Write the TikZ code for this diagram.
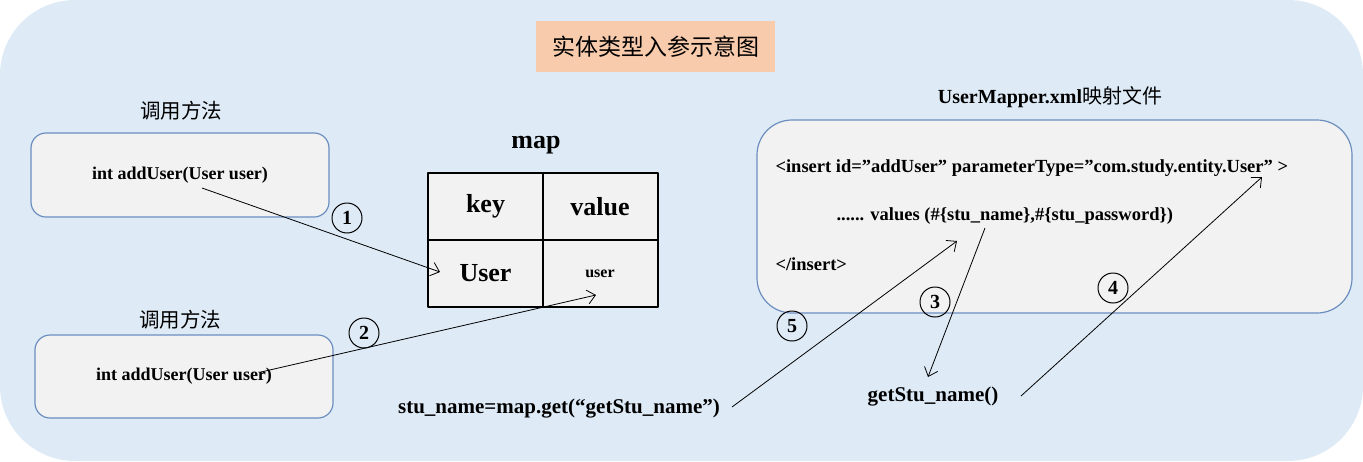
\documentclass[tikz,border=0pt]{standalone}
\usepackage{fontspec}
\setmainfont{Liberation Serif}
\newfontfamily\cjk{Noto Sans CJK SC}
\usetikzlibrary{arrows.meta}
\definecolor{bgblue}{HTML}{DEEBF7}
\definecolor{boxgray}{HTML}{F2F2F2}
\definecolor{boxline}{HTML}{6C8EBF}
\definecolor{titleorange}{HTML}{F8CBAD}

\begin{document}
\begin{tikzpicture}[x=1pt, y=-1pt, line join=round,
    fsz/.style={font=\bfseries\fontsize{#1}{#1}\selectfont},
    zh/.style={font=\cjk\fontsize{#1}{#1}\selectfont},
    callbox/.style={draw=boxline, line width=1.2pt, fill=boxgray, rounded corners=15pt,
        minimum width=298pt, minimum height=84pt},
    cell/.style={draw, line width=2pt, fill=boxgray, minimum width=115pt, minimum height=67pt},
    num/.style={circle, draw, line width=1pt, minimum size=30pt, inner sep=0pt, fsz=20},
    arr/.style={-{Straight Barb[length=8pt, width=14pt]}, line width=0.8pt}]

    % background panel
    \useasboundingbox (0,0) rectangle (1363,461);
    \fill[bgblue, rounded corners=75pt] (0,0) rectangle (1363,461);

    % title
    \node[fill=titleorange, minimum width=239pt, minimum height=51pt, zh=23] (title) at (655.5,46.5) {实体类型入参示意图};

    % calling methods on the left
    \node[zh=20.5] (labelA) at (181,111) {调用方法};
    \node[callbox, fsz=18] (callA) at (180,175) {int addUser(User user)};
    \node[zh=20.5] (labelB) at (180,320) {调用方法};
    \node[callbox, minimum height=83pt, fsz=18] (callB) at (184,376.5) {int addUser(User user)};

    % map table
    \node[fsz=26] (maptitle) at (536,145) {map};
    \node[cell, fsz=26] (keyhead) at (485.5,206.5) {key};
    \node[cell, fsz=26] (valhead) at (600,206.5) {value};
    \node[cell, fsz=26] (keycell) at (485.5,273.5) {User};
    \node[cell, fsz=16] (valcell) at (600,273.5) {user};

    % mapper file
    \node[font=\fontsize{20}{20}\selectfont] (mappertitle) at (1050,97) {\bfseries UserMapper.xml{\mdseries\cjk 映射文件}};
    \node[draw=boxline, line width=1.2pt, fill=boxgray, rounded corners=35pt,
        minimum width=595pt, minimum height=193pt] (mapper) at (1054.5,216.5) {};
    \node[anchor=west, fsz=18.5] (insertline) at (772,168) {<insert id=”addUser” parameterType=”com.study.entity.User” >};
    \node[anchor=west, fsz=18.5] (valuesline) at (833,216) {...... values (\#\{stu\_name\},\#\{stu\_password\})};
    \node[anchor=west, fsz=18.5] (endline) at (772,264) {</insert>};

    % calls below
    \node[fsz=21] (getcall) at (559,409) {stu\_name=map.get(“getStu\_name”)};
    \node[fsz=21] (getter) at (933,397) {getStu\_name()};

    % step numbers
    \node[num] (n1) at (347,218) {1};
    \node[num] (n2) at (364,333) {2};
    \node[num] (n3) at (935,302) {3};
    \node[num] (n4) at (1113,288) {4};
    \node[num] (n5) at (792,326) {5};

    % arrow ends
    \coordinate (s1) at (202,188);
    \coordinate (e1) at (440,272);
    \coordinate (s2) at (261,372);
    \coordinate (e2) at (596,295);
    \coordinate (s3) at (985,228);
    \coordinate (e3) at (928,377);
    \coordinate (s4) at (1021,396);
    \coordinate (e4) at (1262,177);
    \coordinate (s5) at (732,407);
    \coordinate (e5) at (957,241);

    \draw[arr] (s1) -- (e1);
    \draw[arr] (s2) -- (e2);
    \draw[arr] (s3) -- (e3);
    \draw[arr] (s4) -- (e4);
    \draw[arr] (s5) -- (e5);

\end{tikzpicture}
\end{document}
